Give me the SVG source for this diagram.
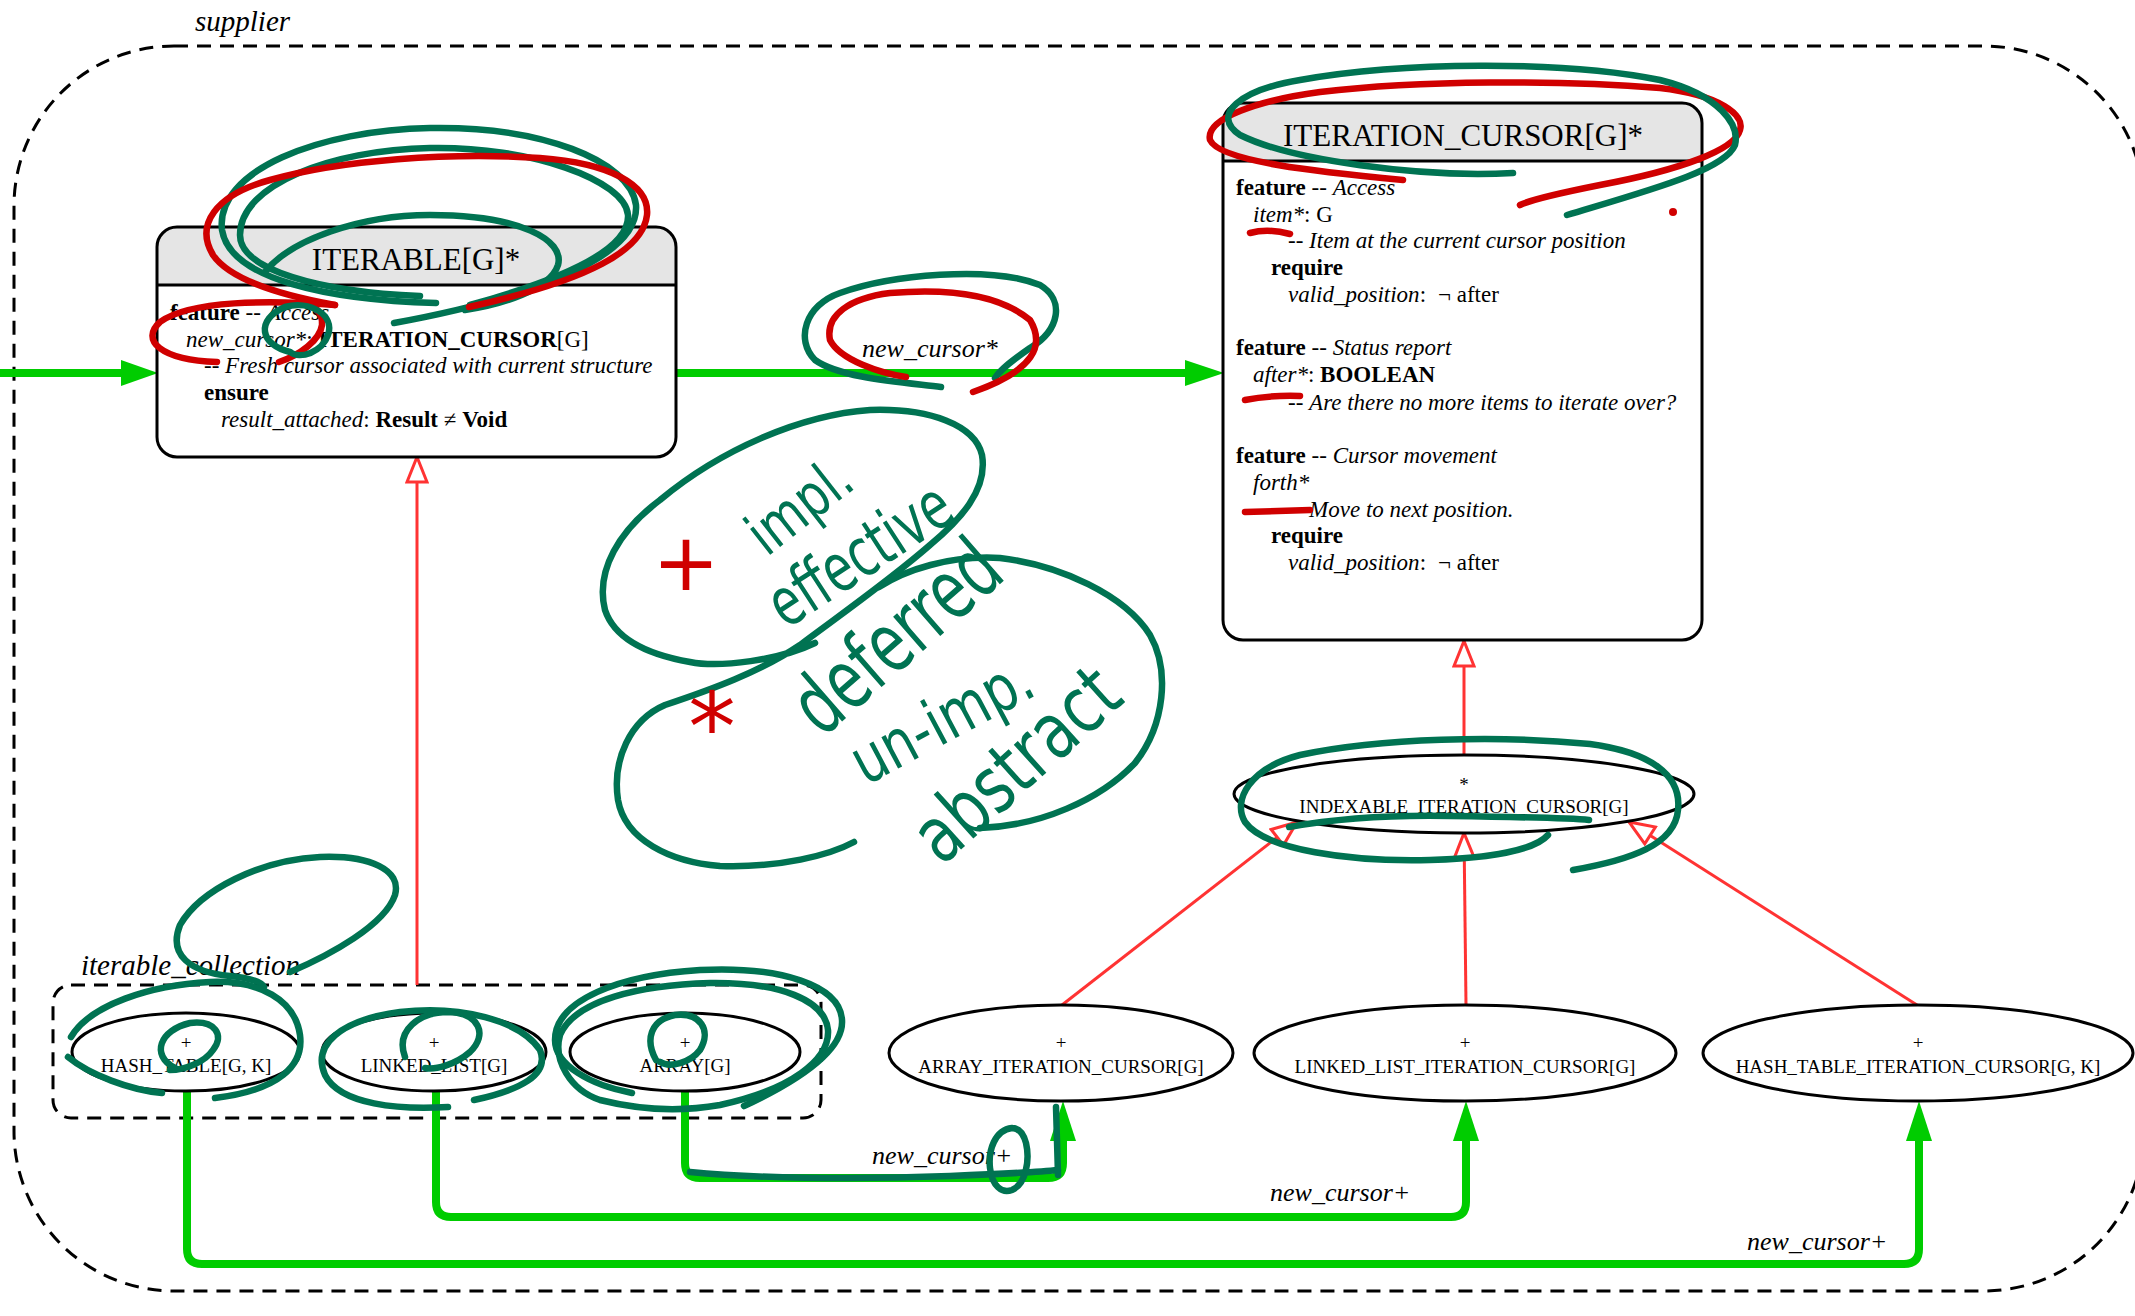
<svg xmlns="http://www.w3.org/2000/svg" width="2135" height="1316" viewBox="0 0 2135 1316">
<style>
text{font-family:"Liberation Serif","Times New Roman",serif;fill:#000}
.b{font-weight:bold}
.i{font-style:italic}
.body{font-size:23px}
.title{font-size:31px}
.ell{fill:#fff;stroke:#000;stroke-width:3}
.etxt{font-size:19px;text-anchor:middle}
.box{fill:none;stroke:#000;stroke-width:3}
.hdr{fill:#e5e5e5}
.cluster{fill:none;stroke:#000;stroke-width:3;stroke-dasharray:14 9}
.clabel{font-size:29px;font-style:italic}
.elabel{font-size:26px;font-style:italic}
.client{fill:none;stroke:#00cc00;stroke-width:8}
.ahead{fill:#00cc00}
.inh{fill:none;stroke:#ff3333;stroke-width:3;marker-end:url(#hollow)}
.ag{fill:none;stroke:#007352;stroke-width:6.5;stroke-linecap:round;stroke-linejoin:round}
.ar{fill:none;stroke:#d00000;stroke-width:6.5;stroke-linecap:round;stroke-linejoin:round}
.hw{font-family:"DejaVu Sans",sans-serif;fill:#007352;text-anchor:middle}
.hr{font-family:"DejaVu Sans",sans-serif;fill:#d00000;text-anchor:middle}
</style>
<defs>
<marker id="hollow" markerUnits="userSpaceOnUse" markerWidth="30" markerHeight="24" refX="25" refY="10" orient="auto" viewBox="-2 -2 30 24">
<path d="M0,0 L25,10 L0,20 Z" fill="#fff" stroke="#ff3333" stroke-width="3"/>
</marker>
</defs>

<!-- clusters -->
<g id="supplier">
<rect class="cluster" x="14" y="46" width="2130" height="1245" rx="160" ry="160"/>
<text class="clabel" x="195" y="31">supplier</text>
</g>
<g id="iterable_collection">
<rect class="cluster" x="53" y="985" width="768" height="133" rx="18" ry="18"/>
<text class="clabel" x="81" y="975">iterable_collection</text>
</g>

<!-- connectors -->
<g id="connectors">
<path class="client" d="M0,373 L122,373"/>
<polygon class="ahead" points="121,360 158,373 121,386"/>
<path class="client" d="M676,373 L1186,373"/>
<polygon class="ahead" points="1185,360 1224,373 1185,386"/>
<text class="elabel" x="862" y="357">new_cursor*</text>

<path class="client" d="M685,1091 V1163 Q685,1178 700,1178 H1048 Q1063,1178 1063,1163 V1140"/>
<polygon class="ahead" points="1050,1141 1063,1101 1076,1141"/>
<text class="elabel" x="872" y="1164">new_cursor+</text>

<path class="client" d="M436,1091 V1202 Q436,1217 451,1217 H1451 Q1466,1217 1466,1202 V1140"/>
<polygon class="ahead" points="1453,1141 1466,1101 1479,1141"/>
<text class="elabel" x="1270" y="1201">new_cursor+</text>

<path class="client" d="M187,1091 V1249 Q187,1264 202,1264 H1904 Q1919,1264 1919,1249 V1140"/>
<polygon class="ahead" points="1906,1141 1919,1101 1932,1141"/>
<text class="elabel" x="1747" y="1250">new_cursor+</text>

<path class="inh" d="M417,985 L417,457"/>
<path class="inh" d="M1464,755 L1464,641"/>
<path class="inh" d="M1062,1005 L1297,822"/>
<path class="inh" d="M1466,1005 L1464,833"/>
<path class="inh" d="M1917,1005 L1629,822"/>
</g>

<!-- ITERABLE -->
<g id="ITERABLE">
<rect x="157" y="227" width="519" height="230" rx="20" ry="20" fill="#fff"/>
<path class="hdr" d="M157,285 L157,247 Q157,227 177,227 L656,227 Q676,227 676,247 L676,285 Z"/>
<line x1="157" y1="285" x2="676" y2="285" stroke="#000" stroke-width="3"/>
<rect class="box" x="157" y="227" width="519" height="230" rx="20" ry="20"/>
<text class="title" x="416" y="270" text-anchor="middle">ITERABLE[G]*</text>
<text class="body" x="170" y="320"><tspan class="b">feature</tspan> -- <tspan class="i">Access</tspan></text>
<text class="body" x="186" y="347"><tspan class="i">new_cursor*</tspan>: <tspan class="b">ITERATION_CURSOR</tspan>[G]</text>
<text class="body" x="204" y="373">-- <tspan class="i">Fresh cursor associated with current structure</tspan></text>
<text class="body b" x="204" y="400">ensure</text>
<text class="body" x="221" y="427"><tspan class="i">result_attached</tspan>: <tspan class="b">Result</tspan> ≠ <tspan class="b">Void</tspan></text>
</g>

<!-- ITERATION_CURSOR -->
<g id="ITERATION_CURSOR">
<rect x="1223" y="103" width="479" height="537" rx="20" ry="20" fill="#fff"/>
<path class="hdr" d="M1223,161 L1223,123 Q1223,103 1243,103 L1682,103 Q1702,103 1702,123 L1702,161 Z"/>
<line x1="1223" y1="161" x2="1702" y2="161" stroke="#000" stroke-width="3"/>
<rect class="box" x="1223" y="103" width="479" height="537" rx="20" ry="20"/>
<text class="title" x="1463" y="146" text-anchor="middle">ITERATION_CURSOR[G]*</text>
<text class="body" x="1236" y="195"><tspan class="b">feature</tspan> -- <tspan class="i">Access</tspan></text>
<text class="body" x="1253" y="222"><tspan class="i">item*</tspan>: G</text>
<text class="body" x="1288" y="248">-- <tspan class="i">Item at the current cursor position</tspan></text>
<text class="body b" x="1271" y="275">require</text>
<text class="body" x="1288" y="302"><tspan class="i">valid_position</tspan>:  <tspan x="1438">¬ after</tspan></text>
<text class="body" x="1236" y="355"><tspan class="b">feature</tspan> -- <tspan class="i">Status report</tspan></text>
<text class="body" x="1253" y="382"><tspan class="i">after*</tspan>: <tspan class="b">BOOLEAN</tspan></text>
<text class="body" x="1288" y="410">-- <tspan class="i">Are there no more items to iterate over?</tspan></text>
<text class="body" x="1236" y="463"><tspan class="b">feature</tspan> -- <tspan class="i">Cursor movement</tspan></text>
<text class="body i" x="1253" y="490">forth*</text>
<text class="body" x="1288" y="517">-- <tspan class="i">Move to next position.</tspan></text>
<text class="body b" x="1271" y="543">require</text>
<text class="body" x="1288" y="570"><tspan class="i">valid_position</tspan>:  <tspan x="1438">¬ after</tspan></text>
</g>

<!-- ellipse nodes -->
<g id="INDEXABLE_ITERATION_CURSOR">
<ellipse class="ell" cx="1464" cy="794" rx="230" ry="39"/>
<text class="etxt" x="1464" y="791">*</text>
<text class="etxt" x="1464" y="813" font-size="18.5">INDEXABLE_ITERATION_CURSOR[G]</text>
</g>
<g id="HASH_TABLE">
<ellipse class="ell" cx="186" cy="1052" rx="114" ry="39"/>
<text class="etxt" x="186" y="1049">+</text>
<text class="etxt" x="186" y="1072">HASH_TABLE[G, K]</text>
</g>
<g id="LINKED_LIST">
<ellipse class="ell" cx="434" cy="1052" rx="112" ry="39"/>
<text class="etxt" x="434" y="1049">+</text>
<text class="etxt" x="434" y="1072">LINKED_LIST[G]</text>
</g>
<g id="ARRAY">
<ellipse class="ell" cx="685" cy="1052" rx="115" ry="39"/>
<text class="etxt" x="685" y="1049">+</text>
<text class="etxt" x="685" y="1072">ARRAY[G]</text>
</g>
<g id="ARRAY_ITERATION_CURSOR">
<ellipse class="ell" cx="1061" cy="1053" rx="172" ry="48"/>
<text class="etxt" x="1061" y="1049">+</text>
<text class="etxt" x="1061" y="1073">ARRAY_ITERATION_CURSOR[G]</text>
</g>
<g id="LINKED_LIST_ITERATION_CURSOR">
<ellipse class="ell" cx="1465" cy="1053" rx="211" ry="48"/>
<text class="etxt" x="1465" y="1049">+</text>
<text class="etxt" x="1465" y="1073">LINKED_LIST_ITERATION_CURSOR[G]</text>
</g>
<g id="HASH_TABLE_ITERATION_CURSOR">
<ellipse class="ell" cx="1918" cy="1053" rx="215" ry="48"/>
<text class="etxt" x="1918" y="1049">+</text>
<text class="etxt" x="1918" y="1073">HASH_TABLE_ITERATION_CURSOR[G, K]</text>
</g>

<!-- handwritten annotations -->
<g id="annotations">
<path class="ag" d="M436,303 C330,300 230,280 222,230 C215,170 320,130 430,128 C540,126 630,160 636,205 C640,260 520,300 394,323"/>
<path class="ag" d="M420,296 C320,292 240,270 240,235 C240,185 330,150 430,148 C530,146 625,180 628,215 C630,250 560,280 470,305"/>
<path class="ag" d="M265,272 C290,240 360,215 430,215 C520,215 565,240 558,265 C550,290 500,305 465,310"/>
<path class="ar" d="M335,305 C280,295 230,280 213,255 C195,225 215,195 270,180 C340,160 450,152 540,158 C610,163 650,185 647,215 C643,250 590,280 469,307"/>
<path class="ar" d="M335,305 C270,300 190,300 160,322 C140,340 160,360 217,362"/>
<path class="ar" d="M279,362 C300,355 320,340 322,325 C323,312 315,305 300,303"/>
<path class="ag" d="M290,352 C260,345 255,320 285,307 C310,300 335,315 328,335 C322,352 300,360 290,352"/>

<path class="ag" d="M941,387 C900,382 840,378 815,360 C795,340 805,305 840,293 C890,275 990,265 1040,285 C1065,300 1060,330 1030,348 C1010,362 1000,370 995,378"/>
<path class="ar" d="M906,377 C880,373 840,360 830,340 C825,315 850,298 890,293 C950,288 1000,295 1030,320 C1045,345 1035,370 973,392"/>

<path class="ar" d="M1403,180 C1320,172 1220,162 1210,140 C1205,118 1260,100 1320,92 C1420,80 1560,80 1660,88 C1720,95 1745,115 1740,130 C1735,150 1680,170 1600,185 C1560,193 1530,200 1520,205"/>
<path class="ag" d="M1513,173 C1420,178 1290,160 1240,135 C1210,115 1240,90 1300,80 C1400,62 1560,60 1660,80 C1720,95 1740,125 1735,145 C1725,170 1650,190 1567,215"/>
<circle cx="1673" cy="212" r="4" fill="#d00000"/>
<path class="ar" d="M1250,233 Q1268,228 1290,234"/>
<path class="ar" d="M1245,400 Q1270,395 1300,396"/>
<path class="ar" d="M1245,512 L1310,510"/>

<path class="ag" d="M815,643 C780,660 720,668 690,662 C650,655 615,640 605,610 C595,570 620,530 660,500 C720,450 800,415 870,410 C930,408 975,425 982,455 C988,490 960,520 930,545 C890,580 840,615 800,645 C760,672 710,690 665,705 C630,720 612,760 618,800 C625,840 670,862 720,866 C780,868 830,855 854,842"/>
<path class="ag" d="M980,828 C1040,826 1100,800 1135,763 C1165,725 1170,670 1150,635 C1125,595 1060,565 1000,558 C950,555 905,570 879,587"/>
<text class="hw" font-size="46" textLength="115" lengthAdjust="spacingAndGlyphs" transform="translate(812,522) rotate(-38) scale(1,1.3)">impl.</text>
<text class="hw" font-size="52" textLength="205" lengthAdjust="spacingAndGlyphs" transform="translate(872,574) rotate(-33) scale(1,1.3)">effective</text>
<text class="hw" font-size="64" textLength="246" lengthAdjust="spacingAndGlyphs" transform="translate(915,658) rotate(-41) scale(1,1.3)">deferred</text>
<text class="hw" font-size="50" textLength="196" lengthAdjust="spacingAndGlyphs" transform="translate(952,740) rotate(-28) scale(1,1.3)">un-imp.</text>
<text class="hw" font-size="60" textLength="248" lengthAdjust="spacingAndGlyphs" transform="translate(1034,784) rotate(-42) scale(1,1.3)">abstract</text>
<text class="hr" font-size="80" x="686" y="590">+</text>
<text class="hr" font-size="95" x="712" y="760">*</text>

<path class="ag" d="M290,972 C330,955 385,925 395,895 C402,870 370,855 320,857 C260,860 200,890 180,925 C168,955 190,972 230,976 C250,978 262,982 264,987"/>
<path class="ag" d="M71,1037 C90,1005 150,985 210,982 C260,980 295,1000 300,1035 C304,1065 280,1090 215,1098"/>
<path class="ag" d="M162,1093 C130,1090 90,1075 68,1057"/>
<path class="ag" d="M175,1068 C150,1055 160,1030 190,1023 C215,1020 225,1035 213,1050 C205,1062 185,1070 170,1070"/>
<path class="ag" d="M448,1107 C400,1110 340,1105 325,1075 C312,1045 340,1020 400,1012 C460,1005 520,1020 540,1050 C550,1075 520,1090 474,1100"/>
<path class="ag" d="M405,1057 C395,1030 420,1012 448,1012 C480,1013 488,1035 470,1052 C455,1065 435,1070 425,1068"/>
<path class="ag" d="M632,1093 C590,1085 555,1065 555,1040 C555,1000 620,975 700,970 C780,966 840,985 842,1020 C844,1050 800,1080 744,1106"/>
<path class="ag" d="M600,1100 C570,1090 553,1060 560,1035 C575,1000 640,985 710,983 C780,982 825,1000 828,1030 C830,1060 790,1090 720,1105 C680,1112 640,1110 600,1100"/>
<path class="ag" d="M656,1060 C645,1040 650,1020 675,1015 C700,1012 712,1030 700,1050 C690,1063 670,1068 660,1062"/>

<path class="ag" d="M1289,827 C1340,818 1400,815 1450,816 C1520,817 1570,818 1589,820"/>
<path class="ag" d="M1573,870 C1630,860 1675,845 1678,810 C1682,775 1650,752 1590,744 C1500,735 1380,738 1300,755 C1250,768 1232,800 1245,822 C1265,850 1350,862 1430,860 C1490,858 1535,850 1548,835"/>

<path class="ag" d="M690,1172 C750,1178 850,1180 950,1176 C1000,1174 1040,1172 1058,1170"/>
<path class="ag" stroke-width="4" d="M1056,1107 L1058,1175"/>
<path class="ag" stroke-width="4.5" d="M1012,1128 C995,1130 988,1150 990,1168 C992,1186 1002,1194 1012,1190 C1026,1184 1030,1160 1026,1143 C1023,1132 1018,1128 1012,1128"/>
</g>
</svg>
